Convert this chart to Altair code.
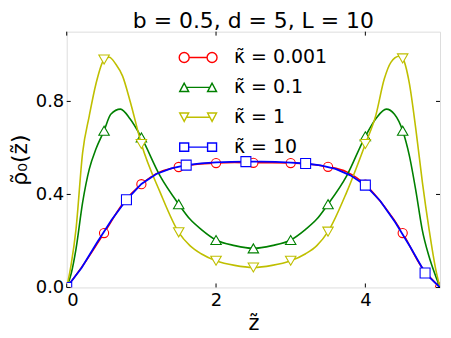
import altair as alt
import pandas as pd

# ---------------- data ----------------
series_names = ["κ̃ = 0.001", "κ̃ = 0.1", "κ̃ = 1", "κ̃ = 10"]
series_colors = ["#ff0000", "#008000", "#bfbf00", "#0000ff"]

red_x = [0, 0.25, 0.5, 0.75, 1.0, 1.25, 1.5, 1.75, 2.0, 2.25, 2.5, 2.75, 3.0,
         3.25, 3.5, 3.75, 4.0, 4.25, 4.5, 4.75, 5.0]
red_y = [0, 0.11, 0.234, 0.36, 0.444, 0.497, 0.518, 0.530, 0.535, 0.537, 0.536,
         0.536, 0.535, 0.530, 0.519, 0.497, 0.442, 0.35, 0.234, 0.09, 0]

green_x = [0, 0.06, 0.124, 0.213, 0.302, 0.391, 0.5, 0.59, 0.72, 0.85, 1.0, 1.25,
           1.5, 1.65, 1.8, 2.0, 2.25, 2.5, 2.75, 3.0, 3.2, 3.35, 3.5, 3.75, 4.0,
           4.15, 4.28, 4.39, 4.5, 4.59, 4.68, 4.76, 4.85, 4.94, 5.0]
green_y = [0, 0.06, 0.165, 0.366, 0.509, 0.595, 0.674, 0.745, 0.767, 0.724, 0.645,
           0.48, 0.358, 0.294, 0.25, 0.204, 0.18, 0.168, 0.18, 0.204, 0.25, 0.294,
           0.358, 0.48, 0.65, 0.73, 0.767, 0.745, 0.674, 0.566, 0.409, 0.251,
           0.136, 0.05, 0]

yellow_x = [0, 0.06, 0.124, 0.213, 0.302, 0.391, 0.5, 0.569, 0.658, 0.747, 0.85,
            1.0, 1.25, 1.5, 1.65, 1.8, 2.0, 2.25, 2.5, 2.75, 3.0, 3.2, 3.35, 3.5,
            3.75, 4.0, 4.14, 4.253, 4.342, 4.453, 4.5, 4.587, 4.676, 4.764,
            4.853, 4.942, 5.0]
yellow_y = [0, 0.10, 0.25, 0.58, 0.738, 0.875, 0.98, 0.99, 0.96, 0.91, 0.80,
            0.617, 0.41, 0.237, 0.18, 0.145, 0.115, 0.095, 0.086, 0.095, 0.115,
            0.145, 0.18, 0.24, 0.41, 0.617, 0.74, 0.896, 0.968, 0.994, 0.985,
            0.882, 0.681, 0.452, 0.251, 0.079, 0]

blue_x = [0, 0.2, 0.4, 0.6, 0.8, 1.0, 1.2, 1.4, 1.6, 1.8, 2.0, 2.2, 2.4, 2.6,
          2.8, 3.0, 3.2, 3.4, 3.6, 3.8, 4.0, 4.2, 4.4, 4.6, 4.8, 5.0]
blue_y = [0, 0.085, 0.19, 0.29, 0.377, 0.445, 0.488, 0.512, 0.526, 0.534, 0.538,
          0.540, 0.541, 0.541, 0.540, 0.537, 0.533, 0.525, 0.51, 0.482, 0.44,
          0.372, 0.28, 0.175, 0.062, 0]

red_marker_x = [0, 0.5, 1.0, 1.5, 2.0, 2.5, 3.0, 3.5, 4.0, 4.5, 5.0]
green_marker_x = [0.5, 1.0, 1.5, 2.0, 2.5, 3.0, 3.5, 4.0, 4.5]
yellow_marker_x = [0.5, 1.0, 1.5, 2.0, 2.5, 3.0, 3.5, 4.0, 4.5]
blue_marker_x = [0, 0.8, 1.6, 2.4, 3.2, 4.0, 4.8]

x_ticks = [0, 2, 4]
y_ticks = [0.0, 0.4, 0.8]

# ---------------- table ----------------
rows = []
for name, xs, ys, mk in [
    (series_names[0], red_x, red_y, red_marker_x),
    (series_names[1], green_x, green_y, green_marker_x),
    (series_names[2], yellow_x, yellow_y, yellow_marker_x),
    (series_names[3], blue_x, blue_y, blue_marker_x),
]:
    mks = {round(v, 3) for v in mk}
    for xv, yv in zip(xs, ys):
        rows.append({"series": name, "x": xv, "y": yv, "marker": round(xv, 3) in mks})
df = pd.DataFrame(rows)

W, H = 375, 257
xscale = alt.Scale(domain=[0, 5], nice=False, zero=False)
yscale = alt.Scale(domain=[0, 1.1], nice=False, zero=False)

FONT = "DejaVu Sans"

x_axis = alt.Axis(values=x_ticks, format="d", grid=False, ticks=False, domain=False,
                  labelFont=FONT, labelFontSize=18, labelColor="black", labelPadding=4,
                  title="z̃", titleFont=FONT, titleFontSize=21, titleFontWeight="normal",
                  titleColor="black", titlePadding=3)
y_axis = alt.Axis(values=y_ticks, format=".1f", grid=False, ticks=False, domain=False,
                  labelFont=FONT, labelFontSize=18, labelColor="black", labelPadding=3,
                  title="ρ̃₀(z̃)", titleFont=FONT, titleFontSize=22, titleFontWeight="normal",
                  titleColor="black", titlePadding=4)

shapes = ["circle", "triangle-up", "triangle-down", "square"]
sizes = [85, 110, 110, 100]
widths = [1.6, 1.6, 1.6, 1.8]
interps = ["monotone", "monotone", "monotone", "linear"]

layers = []
for i, name in enumerate(series_names):
    sub = df[df["series"] == name]
    line = alt.Chart(sub).mark_line(color=series_colors[i], strokeWidth=widths[i],
                                    interpolate=interps[i], clip=True).encode(
        x=alt.X("x:Q", scale=xscale, axis=x_axis),
        y=alt.Y("y:Q", scale=yscale, axis=y_axis),
        order="x:Q",
    )
    pts = alt.Chart(sub[sub["marker"]]).mark_point(
        shape=shapes[i], size=sizes[i], filled=False, fill="white", fillOpacity=1,
        stroke=series_colors[i], strokeWidth=1.1, opacity=1, clip=True).encode(
        x=alt.X("x:Q", scale=xscale),
        y=alt.Y("y:Q", scale=yscale),
    )
    layers += [line, pts]

# legend symbols: line with a marker at each end
legend_paths = [
    "M -0.9,0 A 0.5,0.5 0 1,1 -1.9,0 A 0.5,0.5 0 1,1 -0.9,0 Z "
    "M 1.9,0 A 0.5,0.5 0 1,1 0.9,0 A 0.5,0.5 0 1,1 1.9,0 Z M -0.9,0 L 0.9,0",
    "M -1.4,-0.42 L -1.85,0.42 L -0.95,0.42 Z M 1.4,-0.42 L 0.95,0.42 L 1.85,0.42 Z "
    "M -1.17,0 L 1.17,0",
    "M -1.4,0.42 L -1.85,-0.42 L -0.95,-0.42 Z M 1.4,0.42 L 0.95,-0.42 L 1.85,-0.42 Z "
    "M -1.17,0 L 1.17,0",
    "M -1.85,-0.42 L -0.95,-0.42 L -0.95,0.42 L -1.85,0.42 Z "
    "M 0.95,-0.42 L 1.85,-0.42 L 1.85,0.42 L 0.95,0.42 Z M -0.95,0 L 0.95,0",
]
leg = alt.Legend(title=None, orient="none", legendX=121, legendY=15, padding=0,
                 labelFont=FONT, labelFontSize=19, labelColor="black", labelLimit=0,
                 symbolSize=400, symbolStrokeWidth=1.4, labelOffset=25, rowPadding=9,
                 symbolOpacity=1)
legend_layer = alt.Chart(df).transform_filter("datum.x < -100").mark_point(
    filled=False, fill="white", fillOpacity=1, strokeWidth=1.4, opacity=1).encode(
    x=alt.X("x:Q", scale=xscale),
    y=alt.Y("y:Q", scale=yscale),
    color=alt.Color("series:N", scale=alt.Scale(domain=series_names, range=series_colors),
                    legend=leg, sort=series_names),
    shape=alt.Shape("series:N", scale=alt.Scale(domain=series_names, range=legend_paths),
                    legend=leg, sort=series_names),
)

# inward tick marks on all four sides
xt = pd.DataFrame({"t": x_ticks})
yt = pd.DataFrame({"t": y_ticks})
tick_style = dict(color="black", strokeWidth=1)
ticks = [
    alt.Chart(xt).mark_rule(**tick_style).encode(x=alt.X("t:Q", scale=xscale), y=alt.value(H), y2=alt.value(H - 4)),
    alt.Chart(xt).mark_rule(**tick_style).encode(x=alt.X("t:Q", scale=xscale), y=alt.value(0), y2=alt.value(4)),
    alt.Chart(yt).mark_rule(**tick_style).encode(y=alt.Y("t:Q", scale=yscale), x=alt.value(0), x2=alt.value(4)),
    alt.Chart(yt).mark_rule(**tick_style).encode(y=alt.Y("t:Q", scale=yscale), x=alt.value(W), x2=alt.value(W - 4)),
]

chart = alt.layer(*layers, legend_layer, *ticks).properties(
    width=W, height=H,
    padding={"left": 0, "top": 1, "right": 2, "bottom": 0},
    title=alt.TitleParams("b = 0.5, d = 5, L = 10", font=FONT, fontSize=22,
                          fontWeight="normal", color="black", offset=-2, anchor="middle"),
).configure_view(stroke="black", strokeWidth=1).configure(background="white")

chart.save("out.html", embed_options={"renderer": "svg", "actions": False})
